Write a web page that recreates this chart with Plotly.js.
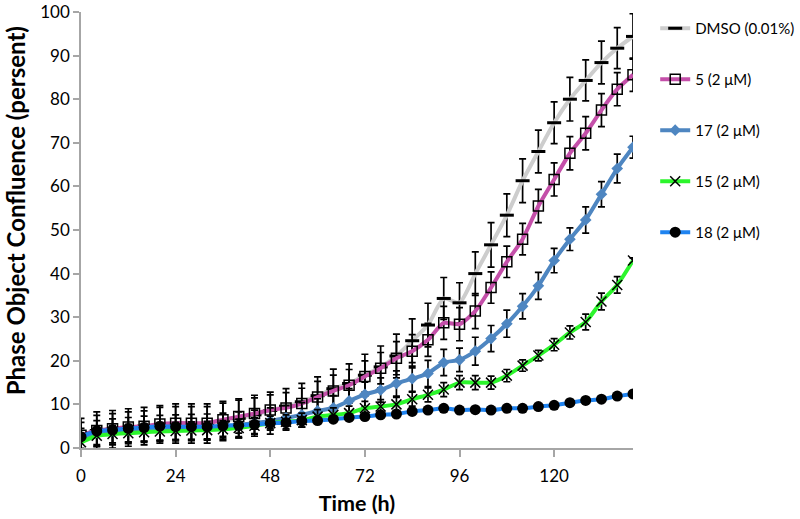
<!DOCTYPE html>
<html>
<head>
<meta charset="utf-8">
<script src="https://cdn.plot.ly/plotly-3.0.1.min.js"></script>
<style>
  body { margin: 0; background: #fff; }
  #chart { width: 800px; height: 519px; }
</style>
</head>
<body>
<div id="chart"></div>
<script>
// time points (h)
let hours = [0,4,8,12,16,20,24,28,32,36,40,44,48,52,56,60,64,68,72,76,80,84,88,92,96,100,104,108,112,116,120,124,128,132,136,140];

let dmso = [2.8,4.0,4.3,4.7,5.0,5.4,5.6,5.6,5.6,6.2,6.8,7.6,8.6,9.6,10.6,12.0,13.6,14.8,16.7,18.6,21.1,24.6,28.2,34.3,33.3,40.0,46.6,53.4,61.3,68.0,74.6,80.0,84.3,88.4,91.7,94.4];
let dmsoErr = [4.0,4.3,4.3,4.3,4.3,4.3,4.5,4.5,4.5,4.5,4.5,4.5,4.2,4.0,4.2,4.3,4.5,4.5,4.8,4.8,5.0,5.0,5.0,4.8,4.6,5.0,5.1,4.9,5.0,4.9,4.8,5.0,4.7,4.9,4.7,5.2];

let c5 = [2.9,4.0,4.4,4.8,5.0,5.5,5.7,5.7,5.7,6.5,7.2,7.9,8.7,9.2,10.2,11.7,13.1,14.4,16.4,18.3,20.6,22.2,24.8,28.7,28.4,31.4,36.8,42.7,47.9,55.5,61.6,67.6,72.2,77.5,82.3,85.6];
let c5Err = [3.0,3.5,3.5,3.5,3.5,3.8,3.8,3.8,3.8,3.8,3.8,3.6,3.5,3.5,3.5,3.6,3.6,3.6,3.6,3.6,3.8,3.8,3.8,3.8,3.8,4.0,3.6,3.6,3.6,3.8,3.8,3.8,3.8,3.8,3.8,3.8];

let c17 = [2.0,3.3,3.7,4.0,4.3,4.5,4.6,4.7,4.8,5.0,5.3,5.7,6.2,6.9,7.6,8.5,9.2,10.8,12.3,13.3,14.8,15.9,17.1,19.6,20.2,22.2,25.1,28.5,32.5,37.2,43.0,47.9,52.3,58.2,64.1,69.0];
let c17Err = [2.5,3.0,3.0,3.0,3.0,3.0,3.0,3.0,3.0,3.0,3.0,3.0,3.0,2.8,2.8,2.8,2.8,2.8,2.8,2.8,2.9,2.9,3.0,3.0,2.7,3.2,3.0,3.1,2.9,3.1,2.8,2.6,3.0,2.9,3.3,2.5];

let c15 = [1.3,2.8,3.2,3.4,3.6,3.8,3.9,4.0,4.1,4.3,4.6,5.1,5.7,6.0,6.4,7.2,7.6,8.0,9.1,9.5,10.0,11.2,12.2,13.4,15.0,15.0,15.0,16.6,18.9,21.2,23.7,26.5,28.9,33.6,37.4,43.0];
let c15Err = [1.5,2.0,2.0,2.0,2.0,2.0,2.0,2.0,2.0,2.0,2.0,1.8,1.6,1.6,1.6,1.6,1.6,1.6,1.6,1.6,1.6,1.6,1.6,1.6,1.6,1.6,1.5,1.4,1.3,1.2,1.4,1.5,1.8,1.9,1.9,0.6];

let c18 = [2.6,3.9,4.1,4.5,4.7,5.0,4.9,4.9,4.9,5.1,5.2,5.4,5.7,5.8,6.2,6.3,6.6,7.0,7.2,7.6,7.8,8.4,8.7,9.1,8.7,8.8,8.7,9.1,9.1,9.5,9.8,10.4,10.9,11.2,11.9,12.4];
let c18Err = [0.6,0.5,0.5,0.5,0.5,0.5,0.5,0.5,0.5,0.5,0.5,0.5,0.5,0.5,0.5,0.5,0.5,0.5,0.5,0.5,0.5,0.5,0.5,0.5,0.5,0.5,0.5,0.5,0.5,0.5,0.5,0.5,0.5,0.5,0.5,0.5];

let names = ['DMSO (0.01%)','5 (2 \u03bcM)','17 (2 \u03bcM)','15 (2 \u03bcM)','18 (2 \u03bcM)'];

function errBars(arr){
  return {type:'data', array:arr, visible:true, color:'#000', thickness:1.7, width:3.5};
}

let traces = [
  {
    x: hours, y: dmso, name: names[0], legendgroup:'a', error_y: errBars(dmsoErr),
    mode:'lines+markers', line:{color:'#cdcdcd', width:4, shape:'spline', smoothing:0.6},
    marker:{symbol:'line-ew-open', size:10, color:'#000', line:{color:'#000', width:3}}
  },
  {
    x: hours, y: c5, name: names[1], legendgroup:'b', error_y: errBars(c5Err),
    mode:'lines+markers', line:{color:'#c44fa9', width:4, shape:'spline', smoothing:0.6},
    marker:{symbol:'square-open', size:10, color:'#000', line:{color:'#000', width:1.5}}
  },
  {
    x: hours, y: c17, name: names[2], legendgroup:'c', error_y: errBars(c17Err),
    mode:'lines+markers', line:{color:'#4e86c1', width:4, shape:'spline', smoothing:0.6},
    marker:{symbol:'diamond', size:9, color:'#4e86c1'}
  },
  {
    x: hours, y: c15, name: names[3], legendgroup:'d', error_y: errBars(c15Err),
    mode:'lines+markers', line:{color:'#2cf52c', width:4, shape:'spline', smoothing:0.6},
    marker:{symbol:'x-thin-open', size:10, color:'#000', line:{color:'#000', width:1.5}}
  },
  {
    x: hours, y: c18, name: names[4], legendgroup:'e', error_y: errBars(c18Err),
    mode:'lines+markers', line:{color:'#1f83f0', width:4, shape:'spline', smoothing:0.6},
    marker:{symbol:'circle', size:11, color:'#000'}
  }
];

let layout = {
  width: 800,
  height: 519,
  margin: {l:81, r:167, t:12, b:71},
  paper_bgcolor:'#fff',
  plot_bgcolor:'#fff',
  font: {family:'Lato, "Liberation Sans", sans-serif', size:17, color:'#000'},
  showlegend: true,
  legend: {
    xref:'container', yref:'container',
    x: 0.819, y: 0.977, xanchor:'left', yanchor:'top',
    traceorder:'grouped', tracegroupgap: 28.5,
    font:{size:15}, bgcolor:'rgba(0,0,0,0)', borderwidth:0
  },
  xaxis: {
    range:[0,140], tickvals:[0,24,48,72,96,120],
    showline:true, linecolor:'#a6a6a6', linewidth:1.5,
    ticks:'outside', ticklen:7, tickcolor:'#a6a6a6', tickwidth:1.5,
    ticklabelstandoff:5,
    showgrid:false, zeroline:false,
    title:{text:'<b>Time (h)</b>', font:{size:21.5}, standoff:11}
  },
  yaxis: {
    range:[0,100], dtick:10,
    showline:true, linecolor:'#a6a6a6', linewidth:1.5,
    ticks:'outside', ticklen:6, tickcolor:'#a6a6a6', tickwidth:1.5,
    showgrid:false, zeroline:false
  },
  annotations: [
    {
      text:'<b>Phase Object Confluence (persent)</b>',
      xref:'paper', yref:'paper', x:-0.118, y:0.545,
      xanchor:'center', yanchor:'middle', textangle:-90,
      showarrow:false, font:{size:24}
    }
  ]
};

Plotly.newPlot('chart', traces, layout, {displayModeBar:false});
</script>
</body>
</html>
